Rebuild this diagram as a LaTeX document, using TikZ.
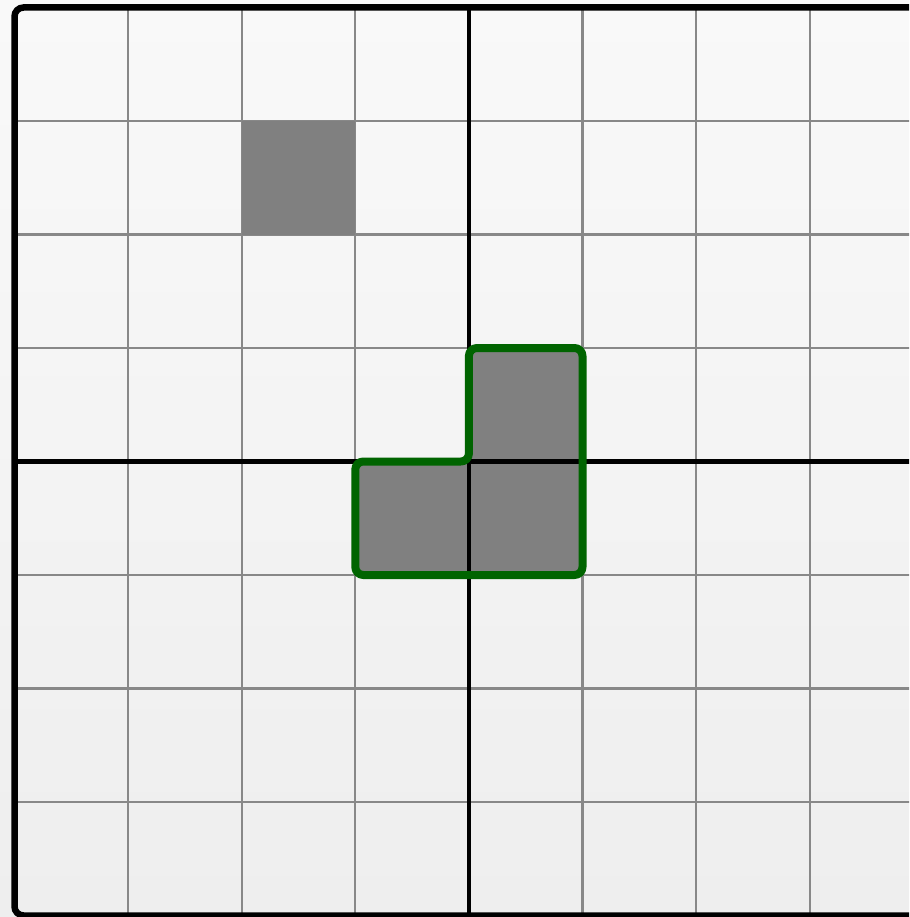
\documentclass[tikz,border=0pt]{standalone}
\definecolor{gridgray}{HTML}{888888}
\definecolor{cellgray}{HTML}{808080}
\definecolor{lgreen}{HTML}{006400}
\definecolor{bgtop}{HTML}{F9F9F9}
\definecolor{bgbot}{HTML}{EEEEEE}
\tikzset{
  gridline/.style={draw=gridgray, line width=2.2pt},
  axisline/.style={draw=black, line width=4.8pt},
  borderline/.style={draw=black, line width=6.5pt, rounded corners=9pt},
  cellfill/.style={fill=cellgray},
  shapeline/.style={draw=lgreen, line width=8pt, rounded corners=8pt, line join=round},
}
\begin{document}
\begin{tikzpicture}[x=1pt,y=-1pt]
\useasboundingbox (0,0) rectangle (909,917);
\clip (0,0) rectangle (909,917);
\shade[top color=bgtop, bottom color=bgbot] (0,0) rectangle (909,917);
\begin{scope}[shift={(14.5,7.5)}, x=113.6pt, y=-113.5pt]
  % grid
  \foreach \i in {1,2,3,5,6,7,8} {
    \draw[gridline] (\i,0) -- (\i,8);
  }
  \foreach \j in {1,2,3,5,6,7} {
    \draw[gridline] (0,\j) -- (8.3,\j);
  }
  % single gray cell
  \fill[cellfill] (2,1) rectangle (3,2);
  % L shape fill
  \fill[cellfill, rounded corners=8pt] (4,3) -- (5,3) -- (5,5) -- (3,5) -- (3,4) -- (4,4) -- cycle;
  % axes
  \draw[axisline] (4,0) -- (4,8);
  \draw[axisline] (0,4) -- (8.3,4);
  % L shape outline
  \draw[shapeline] (4,3) -- (5,3) -- (5,5) -- (3,5) -- (3,4) -- (4,4) -- cycle;
  % border
  \draw[borderline] (0,0) rectangle (9,8);
\end{scope}
\end{tikzpicture}
\end{document}
